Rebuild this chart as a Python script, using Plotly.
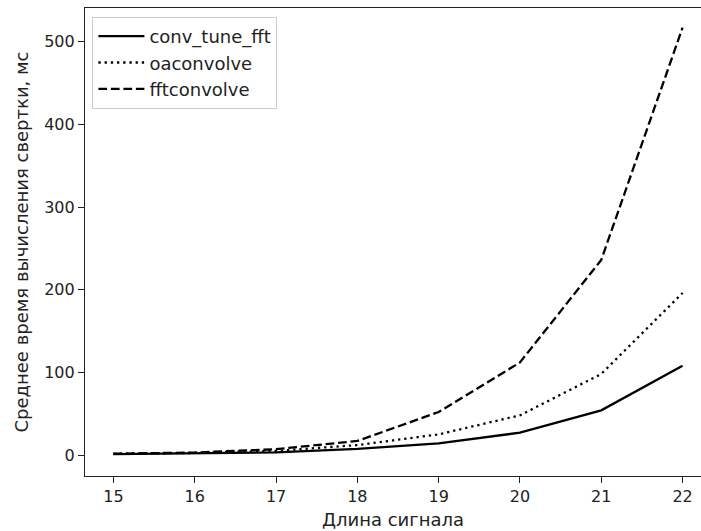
import plotly.graph_objects as go

x = [15, 16, 17, 18, 19, 20, 21, 22]
conv_tune_fft = [1.0, 1.8, 3.2, 7.5, 14, 27, 54, 108]
oaconvolve = [1.5, 2.5, 5.0, 12, 25, 48, 98, 196]
fftconvolve = [1.5, 3.0, 7.0, 17, 52, 112, 236, 517]

FONT = "DejaVu Sans"
fig = go.Figure()
fig.add_trace(go.Scatter(x=x, y=conv_tune_fft, mode="lines", name="conv_tune_fft",
                         line=dict(color="black", width=2.3)))
fig.add_trace(go.Scatter(x=x, y=oaconvolve, mode="lines", name="oaconvolve",
                         line=dict(color="black", width=2.3, dash="2.3px,3.9px")))
fig.add_trace(go.Scatter(x=x, y=fftconvolve, mode="lines", name="fftconvolve",
                         line=dict(color="black", width=2.3, dash="8.7px,3.8px")))

fig.update_layout(
    width=701, height=531,
    margin=dict(l=85, r=0, t=8, b=55),
    paper_bgcolor="white", plot_bgcolor="white",
    font=dict(family=FONT, size=15.5, color="#222"),
    showlegend=True,
    legend=dict(x=0.012, y=0.981, xanchor="left", yanchor="top",
                bgcolor="rgba(255,255,255,0.8)", bordercolor="#cccccc", borderwidth=1,
                font=dict(family=FONT, size=18, color="#222"),
                traceorder="normal", itemwidth=46),
    xaxis=dict(range=[14.65, 22.227], tickvals=x, ticktext=[str(v) for v in x],
               showgrid=False, zeroline=False, showline=True, linecolor="#222", linewidth=1.2,
               mirror=True, ticks="outside", ticklen=6, tickcolor="#222",
               tickfont=dict(size=16),
               title=dict(text="Длина сигнала", font=dict(size=18), standoff=8)),
    yaxis=dict(range=[-25.4, 540.8], tickvals=[0, 100, 200, 300, 400, 500],
               showgrid=False, zeroline=False, showline=True, linecolor="#222", linewidth=1.2,
               ticks="outside", ticklen=6, tickcolor="#222",
               tickfont=dict(size=16),
               title=dict(text="Среднее время вычисления свертки, мс", font=dict(size=18), standoff=10)),
)
fig.write_html("out.html")
